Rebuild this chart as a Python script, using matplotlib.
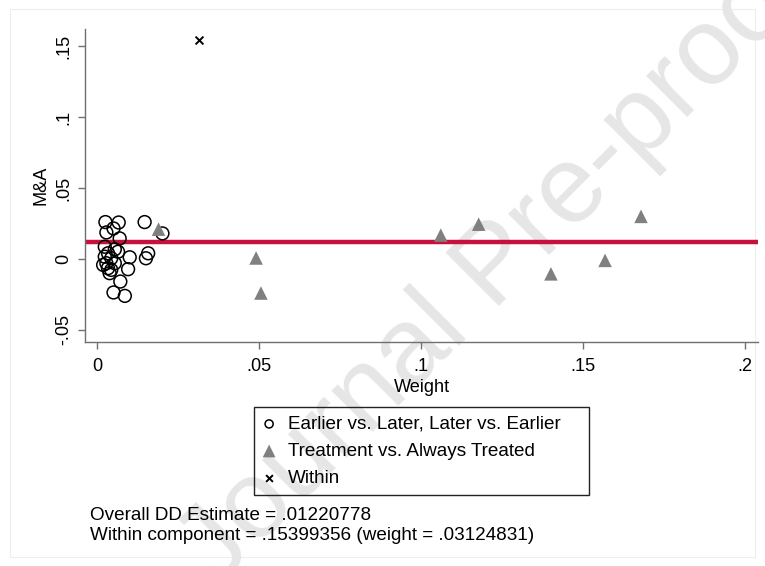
import matplotlib
matplotlib.use("Agg")
import matplotlib.pyplot as plt
from matplotlib.patches import Rectangle

plt.rcParams['font.family'] = ['Liberation Sans', 'DejaVu Sans']

# Earlier vs. Later, Later vs. Earlier (hollow circles)
circ_w = [0.0025, 0.0066, 0.0050, 0.0028, 0.0146, 0.0201, 0.0069, 0.0023, 0.0054,
          0.0064, 0.0033, 0.0023, 0.0043, 0.0100, 0.0157, 0.0150, 0.0018, 0.0033,
          0.0043, 0.0028, 0.0054, 0.0095, 0.0038, 0.0071, 0.0050, 0.0085]
circ_b = [0.0260, 0.0257, 0.0215, 0.0187, 0.0260, 0.0180, 0.0145, 0.0086, 0.0068,
          0.0051, 0.0040, 0.0016, 0.0005, 0.0012, 0.0040, 0.0005, -0.0042, -0.0065,
          -0.0077, -0.0030, -0.0030, -0.0072, -0.0100, -0.0159, -0.0236, -0.0260]

# Treatment vs. Always Treated (triangles)
tri_w = [0.0189, 0.0490, 0.0505, 0.1060, 0.1177, 0.1400, 0.1567, 0.1678]
tri_b = [0.0210, 0.0007, -0.0240, 0.0168, 0.0245, -0.0105, -0.0010, 0.0300]

# Within
within_w = [0.03124831]
within_b = [0.15399356]

overall = 0.01220778

xticks = [0, 0.05, 0.1, 0.15, 0.2]
xlabels = ['0', '.05', '.1', '.15', '.2']
yticks = [-0.05, 0, 0.05, 0.1, 0.15]
ylabels = ['-.05', '0', '.05', '.1', '.15']

W, H = 765, 566
fs = 13.1

fig = plt.figure(figsize=(W / 100, H / 100), dpi=100)
fig.patch.set_facecolor('white')
# faint outer frame of the graph region
fig.add_artist(Rectangle((10 / W, 1 - 557 / H), 745 / W, 548 / H, transform=fig.transFigure,
                         fill=False, edgecolor='#eeeeee', linewidth=0.8, zorder=-2))

# watermark (behind everything)
fig.text(497 / W, 1 - 268 / H, 'Journal Pre-proof', fontsize=79, color='#e6e6e6',
         rotation=45, ha='center', va='center', zorder=-1)

ax = fig.add_axes([85 / W, 1 - 342.3 / H, (758 - 85) / W, (342.3 - 29) / H])
ax.patch.set_alpha(0)

ax.axhline(overall, color='#c8103c', linewidth=3.2, zorder=2)
ax.scatter(circ_w, circ_b, s=85, facecolors='none', edgecolors='black', linewidths=1.1,
           zorder=3, label='Earlier vs. Later, Later vs. Earlier')
ax.scatter(tri_w, tri_b, s=95, marker='^', color='#808080', edgecolors='none',
           zorder=3, label='Treatment vs. Always Treated')
ax.scatter(within_w, within_b, s=32, marker='x', color='black', linewidths=1.4,
           zorder=3, label='Within')

ax.set_xlim(-0.0038, 0.2039)
ax.set_ylim(-0.0587, 0.162)
ax.set_xticks(xticks)
ax.set_xticklabels(xlabels)
ax.set_yticks(yticks)
ax.set_yticklabels(ylabels, rotation=90, va='center')
for s in ['top', 'right']:
    ax.spines[s].set_visible(False)
for s in ['left', 'bottom']:
    ax.spines[s].set_color('#707070')
    ax.spines[s].set_linewidth(1.0)
ax.tick_params(direction='out', length=5, width=1, color='#707070', labelsize=fs)
ax.tick_params(axis='x', pad=6)
ax.tick_params(axis='y', pad=4)
ax.set_xlabel('Weight', fontsize=fs, labelpad=3)
ax.set_ylabel('M&A', fontsize=fs, labelpad=4)

# legend box drawn by hand so it keeps the wide right margin
fig.add_artist(Rectangle((254 / W, 1 - 495 / H), (589 - 254) / W, (495 - 407) / H,
                         transform=fig.transFigure, fill=False, edgecolor='#222222',
                         linewidth=1.0))
leg = fig.legend(loc='upper left', bbox_to_anchor=(254 / W, 1 - 410 / H), fontsize=13.6,
                 frameon=False, handletextpad=0.5, borderpad=0.3, labelspacing=0.52,
                 handlelength=1.0, borderaxespad=0)
for h, sz in zip(leg.legend_handles, [34, 85, 24]):
    h.set_sizes([sz])

fig.text(90 / W, 1 - 515 / H, 'Overall DD Estimate = .01220778', fontsize=13.6, va='center')
fig.text(90 / W, 1 - 535 / H, 'Within component = .15399356 (weight = .03124831)',
         fontsize=13.6, va='center')

fig.savefig('out.png', dpi=100)
